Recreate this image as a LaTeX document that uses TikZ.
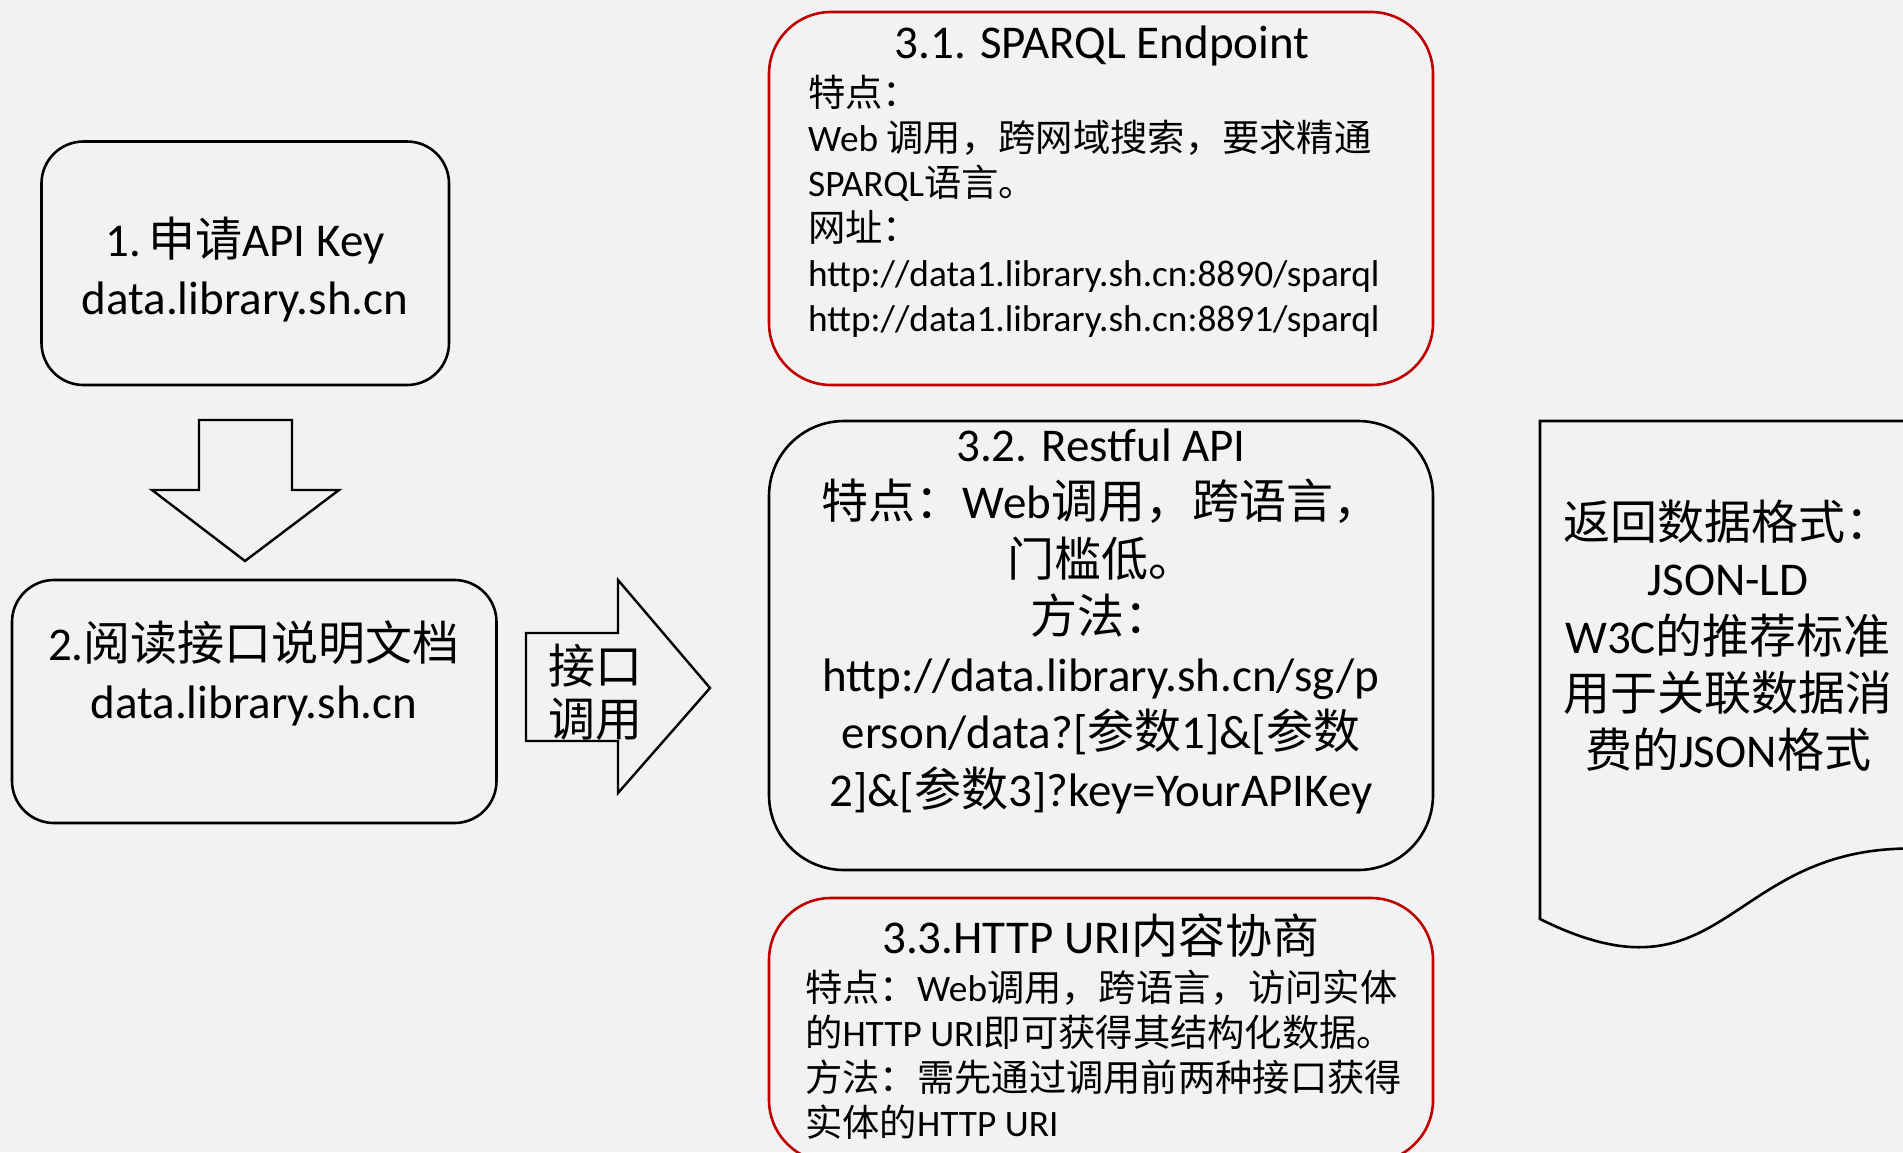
\documentclass[tikz,border=0pt]{standalone}
\usepackage{fontspec}
\setmainfont{Carlito}
\newfontfamily\cjkf{Noto Sans CJK SC}
\newcommand\cj[1]{{\cjkf #1}}
\definecolor{bgc}{HTML}{F2F2F2}
\definecolor{redc}{HTML}{C00000}
\begin{document}
\begin{tikzpicture}[x=1pt,y=-1pt,
  kbox/.style={draw=black,line width=2.6pt,inner sep=0pt},
  rbox/.style={draw=redc,line width=2.6pt,inner sep=0pt},
  fbig/.style={font=\fontsize{47}{57}\selectfont},
  fsml/.style={font=\fontsize{37.3}{45}\selectfont},
  lc/.style={inner sep=0pt,anchor=base},
  lw/.style={inner sep=0pt,anchor=base west},
  blk/.style={draw=black,line width=2.4pt,line join=miter}]
\fill[bgc] (0,0) rectangle (1903,1152);
\path[use as bounding box] (0,0) rectangle (1903,1152);

% left boxes
\node[kbox,rounded corners=42,minimum width=407.5,minimum height=243.5] (b1) at (245.25,263.25) {};
\node[lc,fbig] (t1a) at (245,256) {1.\hspace{0.15em}\cj{申请}API Key};
\node[lc,fbig] (t1b) at (245,314) {data.library.sh.cn};

\draw[blk] (199,420) -- (292,420) -- (292,490) -- (339,490) -- (245,561) -- (152,490) -- (199,490) -- cycle;

\node[kbox,rounded corners=42,minimum width=484.5,minimum height=243] (b2) at (254.25,701.5) {};
\node[lc,fbig] (t2a) at (254,660) {2.\cj{阅读接口说明文档}};
\node[lc,fbig] (t2b) at (254,718) {data.library.sh.cn};

\draw[blk] (526,633) -- (618,633) -- (618,580) -- (710,688) -- (618,793) -- (618,741) -- (526,741) -- cycle;
\node[lc,fbig] (ta) at (595,683) {\cj{接口}};
\node[lc,fbig] (tb) at (595,736) {\cj{调用}};

% box 3.1
\node[rbox,rounded corners=62,minimum width=664,minimum height=373] (b31) at (1101,198.5) {};
\node[lc,fbig] (t31) at (1102,58) {3.1. SPARQL Endpoint};
\node[lw,fsml] (t31a) at (808,106) {\cj{特点：}};
\node[lw,fsml] (t31b) at (808,151) {Web \cj{调用，跨网域搜索，要求精通}};
\node[lw,fsml] (t31c) at (808,196) {SPARQL\cj{语言。}};
\node[lw,fsml] (t31d) at (808,241) {\cj{网址：}};
\node[lw,fsml] (t31e) at (808,286) {http://data1.library.sh.cn:8890/sparql};
\node[lw,fsml] (t31f) at (808,331) {http://data1.library.sh.cn:8891/sparql};

% box 3.2
\node[kbox,rounded corners=75,minimum width=664,minimum height=449] (b32) at (1101,645.5) {};
\begin{scope}
\clip (769,421) rectangle (1384,870);
\node[lc,fbig] (t32) at (1101,461) {3.2. Restful API};
\node[lc,fbig] (t32a) at (1101,518) {\cj{特点：}Web\cj{调用，跨语言，}};
\node[lc,fbig] (t32b) at (1101,576) {\cj{门槛低。}};
\node[lc,fbig] (t32c) at (1101,633) {\cj{方法：}};
\node[lc,fbig] (t32d) at (1101,691) {http://data.library.sh.cn/sg/p};
\node[lc,fbig] (t32e) at (1101,748) {erson/data?[\cj{参数}1]\&[\cj{参数}};
\node[lc,fbig] (t32f) at (1101,806) {2]\&[\cj{参数}3]?key=YourAPIKey};
\end{scope}

% box 3.3
\node[rbox,rounded corners=62,minimum width=664,minimum height=264] (b33) at (1101,1030) {};
\node[lc,fbig] (t33) at (1101,953) {3.3.HTTP URI\cj{内容协商}};
\node[lw,fsml] (t33a) at (805,1001) {\cj{特点：}Web\cj{调用，跨语言，访问实体}};
\node[lw,fsml] (t33b) at (805,1046) {\cj{的}HTTP URI\cj{即可获得其结构化数据。}};
\node[lw,fsml] (t33c) at (805,1091) {\cj{方法：需先通过调用前两种接口获得}};
\node[lw,fsml] (t33d) at (805,1136) {\cj{实体的}HTTP URI};

% document shape
\draw[black,line width=2.6pt] (1540,421) -- (1910,421) -- (1910,848.5)
  .. controls (1725,848.5) and (1725,1011) .. (1540,919) -- cycle;
\node[lc,fbig] (d1) at (1728,539) {\cj{返回数据格式：}};
\node[lc,fbig] (d2) at (1728,595) {JSON-LD};
\node[lc,fbig] (d3) at (1728,653) {W3C\cj{的推荐标准}};
\node[lc,fbig] (d4) at (1728,710) {\cj{用于关联数据消}};
\node[lc,fbig] (d5) at (1728,767) {\cj{费的}JSON\cj{格式}};
\end{tikzpicture}
\end{document}
